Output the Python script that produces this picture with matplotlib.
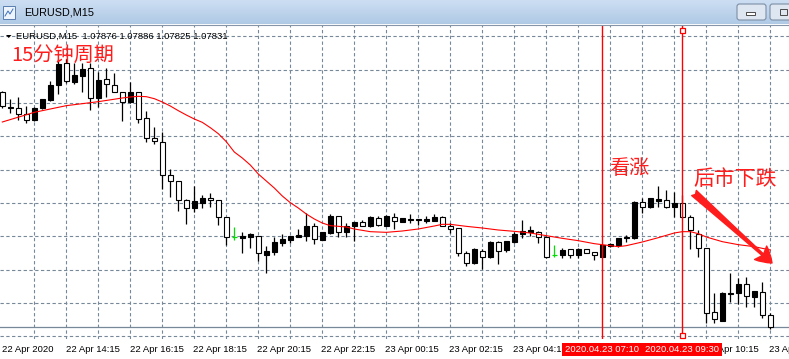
import matplotlib
matplotlib.use("Agg")
import matplotlib.pyplot as plt
import numpy as np
from matplotlib import transforms
from matplotlib.patches import Rectangle, Polygon, FancyBboxPatch

# EURUSD M15, 22 Apr 2020 12:15 -> 23 Apr 2020 12:15
opens = [
    1.08532, 1.08485, 1.08484, 1.08467, 1.08448, 1.08484, 1.08509, 1.08553, 1.08620, 1.08563,
    1.08581, 1.08604, 1.08516, 1.08572, 1.08555, 1.08534, 1.08504, 1.08532, 1.08454, 1.08394,
    1.08382, 1.08283, 1.08265, 1.08208, 1.08184, 1.08201, 1.08215, 1.08208, 1.08157, 1.08099,
    1.08096, 1.08097, 1.08101, 1.08045, 1.08054, 1.08081, 1.08089, 1.08099, 1.08101, 1.08131,
    1.08089, 1.08110, 1.08161, 1.08114, 1.08132, 1.08142, 1.08132, 1.08154, 1.08132, 1.08157,
    1.08144, 1.08148, 1.08150, 1.08147, 1.08147, 1.08159, 1.08131, 1.08124, 1.08049, 1.08019,
    1.08057, 1.08039, 1.08082, 1.08059, 1.08084, 1.08106, 1.08114, 1.08114, 1.08097, 1.08044,
    1.08044, 1.08061, 1.08044, 1.08061, 1.08052, 1.08039, 1.08071, 1.08074, 1.08094, 1.08094,
    1.08204, 1.08187, 1.08207, 1.08209, 1.08189, 1.08199, 1.08157, 1.08107, 1.08064, 1.07874,
    1.07847, 1.07927, 1.07929, 1.07956, 1.07919, 1.07932, 1.07864,
]
highs = [
    1.08536, 1.08512, 1.08518, 1.08491, 1.08488, 1.08512, 1.08566, 1.08632, 1.08632, 1.08620,
    1.08620, 1.08619, 1.08593, 1.08605, 1.08590, 1.08534, 1.08563, 1.08532, 1.08476, 1.08427,
    1.08414, 1.08302, 1.08266, 1.08211, 1.08251, 1.08224, 1.08229, 1.08208, 1.08157, 1.08127,
    1.08113, 1.08111, 1.08101, 1.08071, 1.08097, 1.08107, 1.08101, 1.08121, 1.08169, 1.08141,
    1.08112, 1.08168, 1.08161, 1.08139, 1.08142, 1.08149, 1.08162, 1.08161, 1.08164, 1.08171,
    1.08154, 1.08167, 1.08151, 1.08161, 1.08167, 1.08161, 1.08141, 1.08124, 1.08057, 1.08064,
    1.08061, 1.08087, 1.08087, 1.08086, 1.08114, 1.08149, 1.08131, 1.08117, 1.08101, 1.08074,
    1.08064, 1.08061, 1.08064, 1.08061, 1.08052, 1.08074, 1.08079, 1.08094, 1.08104, 1.08207,
    1.08214, 1.08215, 1.08251, 1.08239, 1.08234, 1.08224, 1.08164, 1.08119, 1.08064, 1.07929,
    1.07934, 1.07989, 1.07974, 1.07977, 1.07936, 1.07962, 1.07871,
]
lows = [
    1.08485, 1.08470, 1.08449, 1.08440, 1.08446, 1.08483, 1.08506, 1.08527, 1.08560, 1.08558,
    1.08534, 1.08479, 1.08489, 1.08519, 1.08533, 1.08446, 1.08500, 1.08439, 1.08384, 1.08376,
    1.08241, 1.08217, 1.08177, 1.08136, 1.08174, 1.08184, 1.08189, 1.08135, 1.08074, 1.08089,
    1.08049, 1.08064, 1.08027, 1.07991, 1.08044, 1.08071, 1.08081, 1.08098, 1.08087, 1.08077,
    1.08088, 1.08107, 1.08097, 1.08099, 1.08087, 1.08131, 1.08129, 1.08131, 1.08131, 1.08121,
    1.08144, 1.08139, 1.08134, 1.08139, 1.08147, 1.08131, 1.08109, 1.08042, 1.08011, 1.08017,
    1.08001, 1.08034, 1.08017, 1.08054, 1.08079, 1.08094, 1.08102, 1.08081, 1.08034, 1.08037,
    1.08034, 1.08034, 1.08034, 1.08049, 1.08029, 1.08037, 1.08069, 1.08067, 1.08084, 1.08093,
    1.08171, 1.08186, 1.08187, 1.08186, 1.08159, 1.08156, 1.08061, 1.08037, 1.07839, 1.07839,
    1.07846, 1.07904, 1.07897, 1.07889, 1.07889, 1.07854, 1.07821,
]
closes = [
    1.08490, 1.08488, 1.08467, 1.08449, 1.08485, 1.08511, 1.08553, 1.08617, 1.08566, 1.08584,
    1.08602, 1.08516, 1.08569, 1.08556, 1.08534, 1.08504, 1.08532, 1.08451, 1.08394, 1.08385,
    1.08283, 1.08265, 1.08208, 1.08184, 1.08205, 1.08214, 1.08208, 1.08157, 1.08099, 1.08099,
    1.08101, 1.08106, 1.08051, 1.08057, 1.08082, 1.08091, 1.08101, 1.08104, 1.08131, 1.08091,
    1.08112, 1.08161, 1.08114, 1.08132, 1.08142, 1.08132, 1.08157, 1.08134, 1.08161, 1.08147,
    1.08154, 1.08153, 1.08151, 1.08153, 1.08159, 1.08131, 1.08123, 1.08049, 1.08019, 1.08061,
    1.08039, 1.08082, 1.08057, 1.08086, 1.08107, 1.08117, 1.08119, 1.08097, 1.08037, 1.08044,
    1.08059, 1.08044, 1.08061, 1.08051, 1.08044, 1.08074, 1.08077, 1.08094, 1.08099, 1.08204,
    1.08187, 1.08214, 1.08212, 1.08187, 1.08199, 1.08157, 1.08119, 1.08064, 1.07871, 1.07852,
    1.07931, 1.07931, 1.07956, 1.07921, 1.07936, 1.07864, 1.07829,
]

# red moving average, read at a subset of bars
ma_bars = [0, 4, 8, 12, 15, 16, 17, 18, 19, 20, 21, 22, 23, 24, 25, 26, 27, 28, 29, 30,
           31, 32, 33, 34, 35, 36, 37, 38, 39, 40, 41, 42, 43, 44, 46, 48, 50, 52, 54, 55,
           56, 58, 60, 62, 64, 66, 68, 70, 72, 74, 76, 77, 78, 80, 82, 84, 85, 86, 87, 88,
           90, 92, 94, 96]
ma_vals = [1.08443, 1.08472, 1.08492, 1.08504, 1.08515, 1.08518, 1.08520, 1.08519, 1.08513, 1.08503,
           1.08491, 1.08477, 1.08464, 1.08452, 1.08442, 1.08426, 1.08408, 1.08384, 1.08353, 1.08335,
           1.08314, 1.08287, 1.08266, 1.08245, 1.08221, 1.08201, 1.08185, 1.08167, 1.08152, 1.08140,
           1.08132, 1.08130, 1.08128, 1.08122, 1.08114, 1.08112, 1.08116, 1.08122, 1.08131, 1.08136,
           1.08136, 1.08130, 1.08125, 1.08119, 1.08115, 1.08110, 1.08102, 1.08094, 1.08087, 1.08078,
           1.08072, 1.08069, 1.08072, 1.08083, 1.08096, 1.08110, 1.08114, 1.08114, 1.08108, 1.08098,
           1.08084, 1.08075, 1.08069, 1.08059]

# time scale labels (06:15 and 08:15 sit under the red line labels and are not visible)
label_bars = [0, 8, 16, 24, 32, 40, 48, 56, 64, 88, 96]
time_labels = ["22 Apr 2020", "22 Apr 14:15", "22 Apr 16:15", "22 Apr 18:15", "22 Apr 20:15",
               "22 Apr 22:15", "23 Apr 00:15", "23 Apr 02:15", "23 Apr 04:15",
               "23 Apr 10:15", "23 Apr 12:15"]

marked_bars = [75, 85]
marked_labels = ["2020.04.23 07:10", "2020.04.23 09:30"]

header = "EURUSD,M15  1.07876 1.07886 1.07825 1.07831"
window_title = "EURUSD,M15"

W, H = 789, 359
chart_top, chart_bot = 25, 339
bar_px, first_bar_px = 8.0, 2.3
ref_price, ref_px, px_per_price = 1.0790, 303, 1 / 0.00003

RED = "#ff1c1c"
GRID = "#778899"
UI_FONT = ["Liberation Sans", "DejaVu Sans"]
CJK_FONT = ["Noto Sans CJK SC", "DejaVu Sans"]

fig = plt.figure(figsize=(W / 100, H / 100), dpi=100, facecolor="white")

# --- price chart ---
ax = fig.add_axes([0, (H - chart_bot) / H, 1, (chart_bot - chart_top) / H])
ax.set_xlim(-first_bar_px / bar_px, (W - first_bar_px) / bar_px)
ax.set_ylim(ref_price - (chart_bot - ref_px) / px_per_price,
            ref_price + (ref_px - chart_top) / px_per_price)
ax.set_axis_off()

for k in range(-1, 9):
    ax.axhline(ref_price + 0.001 * k, color=GRID, lw=0.8, ls=(0, (3, 2.2)), zorder=1)
for b in range(4, len(opens), 4):
    ax.axvline(b, color=GRID, lw=0.8, ls=(0, (3, 2.2)), zorder=1)

o, h, l, c = (np.array(v) for v in (opens, highs, lows, closes))
idx = np.arange(len(o))
up, down, flat = c > o, c < o, c == o

ax.vlines(idx[~flat], l[~flat], h[~flat], color="black", lw=0.9, zorder=3)
ax.bar(idx[up], (c - o)[up], bottom=o[up], width=0.6, color="black",
       edgecolor="black", lw=0.8, zorder=4)
ax.bar(idx[down], (o - c)[down], bottom=c[down], width=0.6, color="white",
       edgecolor="black", lw=0.8, zorder=4)
ax.vlines(idx[flat], l[flat], h[flat], color="#00dd00", lw=0.9, zorder=4)
ax.hlines(o[flat], idx[flat] - 0.3, idx[flat] + 0.3, color="#00dd00", lw=0.9, zorder=4)

ax.plot(ma_bars, ma_vals, color="red", lw=0.8, zorder=5)

# bid line
ax.axhline(closes[-1], color=GRID, lw=0.9, zorder=2)

for b in marked_bars:
    ax.axvline(b, color="red", lw=1.0, zorder=6)
sel = transforms.blended_transform_factory(ax.transData, ax.transAxes)
ax.plot([marked_bars[1]] * 2, [0.985, 0.012], ls="none", marker="s", ms=3.6,
        mfc="white", mec="red", mew=0.9, transform=sel, clip_on=False, zorder=7)

# --- window chrome, labels and notes in pixel space ---
ov = fig.add_axes([0, 0, 1, 1])
ov.set_axis_off()

grad = np.linspace(0, 1, 24)[:, None, None]
top_col = np.array([0.80, 0.87, 0.95])
bot_col = np.array([0.69, 0.79, 0.90])
bar_img = np.repeat(top_col + (bot_col - top_col) * grad, 2, axis=1)
ov.imshow(bar_img, extent=(0, W, 24, 0), aspect="auto", zorder=0)
ov.plot([0, W], [24.5, 24.5], color="#8695a8", lw=0.8)

ov.add_patch(Rectangle((3, 6), 12, 13, fc="#eef4fb", ec="#5a7db0", lw=0.7))
ov.plot([5, 8, 10, 13], [16, 11, 14, 9], color="#3b6fc0", lw=0.7)
ov.text(24, 12.5, window_title, fontsize=7.8, va="center", family=UI_FONT)

ov.add_patch(FancyBboxPatch((737, 4), 29, 16, boxstyle="round,pad=0,rounding_size=2.5",
                            fc="#dde6f1", ec="#7d8fa6", lw=0.8))
ov.add_patch(Rectangle((746.5, 12), 9, 3, fc="white", ec="#4a4a4a", lw=0.7))
ov.add_patch(FancyBboxPatch((770, 4), 29, 16, boxstyle="round,pad=0,rounding_size=2.5",
                            fc="#dde6f1", ec="#7d8fa6", lw=0.8))
ov.add_patch(Rectangle((780, 9), 7, 6, fc="none", ec="#4a4a4a", lw=0.7))

ov.add_patch(Polygon([(6, 35), (11.5, 35), (8.75, 38)], closed=True, fc="black", ec="none"))
ov.text(16.5, 36.3, header, fontsize=6.8, va="center", family=UI_FONT)

tx = transforms.blended_transform_factory(ax.transData, ov.transData)
for b, lab in zip(label_bars, time_labels):
    ov.text(b - 0.1, 349, lab, transform=tx, fontsize=6.8, va="center", ha="left",
            family=UI_FONT, zorder=2)
for b, lab in zip(marked_bars, marked_labels):
    ov.add_patch(Rectangle((b - 5.0, 342.5), 10.0, 13, transform=tx, fc="red", ec="none", zorder=3))
    ov.text(b, 349, lab, transform=tx, fontsize=6.8, va="center", ha="center",
            color="white", family=UI_FONT, zorder=4)

ov.text(11, 44.5, "15分钟周期", fontsize=14.5, color=RED, va="top", family=CJK_FONT)
ov.text(609, 157.5, "看涨", fontsize=14.5, color=RED, va="top", family=CJK_FONT)
ov.text(693, 167.5, "后市下跌", fontsize=15, color=RED, va="top", family=CJK_FONT)
ov.annotate("", xy=(772, 263), xytext=(694, 193),
            arrowprops=dict(arrowstyle="fancy,head_length=1.1,head_width=1.3,tail_width=0.5",
                            color=RED, shrinkA=0, shrinkB=0))

ov.set_xlim(0, W)
ov.set_ylim(H, 0)

plt.savefig("out.png", dpi=100)
